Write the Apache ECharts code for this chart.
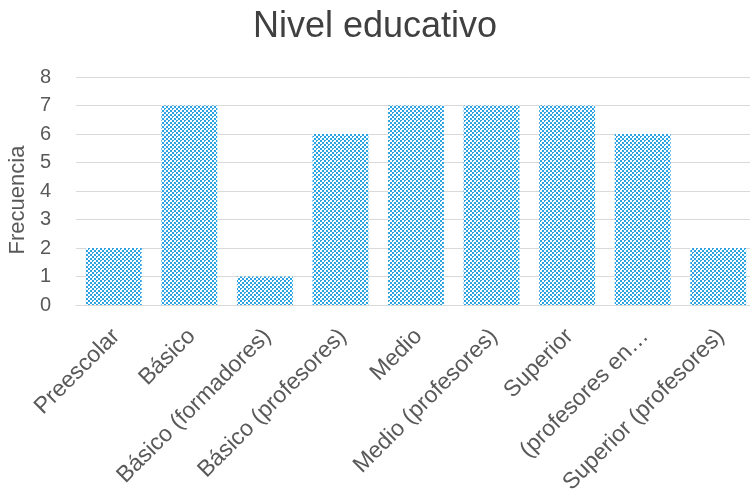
<!DOCTYPE html>
<html><head><meta charset="utf-8">
<script src="https://cdn.jsdelivr.net/npm/echarts@6/dist/echarts.min.js"></script>
<style>html,body{margin:0;padding:0;background:#fff}#c{width:750px;height:490px}</style>
</head><body><div id="c"></div>
<script>
const categories = ['Preescolar','Básico','Básico (formadores)','Básico (profesores)','Medio','Medio (profesores)','Superior','(profesores en…','Superior (profesores)'];
const values = [2,7,1,6,7,7,7,6,2];
const yTicks = [0,1,2,3,4,5,6,7,8];

const tile = document.createElement('canvas');
tile.width = 8; tile.height = 8;
const g = tile.getContext('2d');
g.fillStyle = '#ffffff'; g.fillRect(0,0,8,8);
g.fillStyle = '#2aa4e4';
g.fillRect(0,0,2,2); g.fillRect(4,0,2,2);
g.fillRect(2,2,2,2); g.fillRect(6,2,2,2);
g.fillRect(0,4,2,2); g.fillRect(4,4,2,2);
g.fillRect(2,6,2,2); g.fillRect(6,6,2,2);
g.fillStyle = '#ffffff';
g.fillRect(1,1,1,1); g.fillRect(5,5,1,1);

const font = '"Liberation Sans", "DejaVu Sans", sans-serif';
const chart = echarts.init(document.getElementById('c'), null, {renderer:'canvas'});
chart.setOption({
  animation:false,
  title:{text:'Nivel educativo', left:'center', top:4, textStyle:{fontFamily:font, fontSize:36, fontWeight:'normal', color:'#404040'}},
  grid:{left:76, right:-6, top:77, bottom:185, containLabel:false, outerBoundsMode:'none'},
  xAxis:{type:'category', data:categories,
    axisLine:{lineStyle:{color:'#d9d9d9', width:1}}, axisTick:{show:false},
    axisLabel:{rotate:45, interval:0, fontFamily:font, fontSize:23, color:'#595959', margin:14, verticalAlign:'top', padding:[0,8,0,0]}},
  yAxis:{type:'value', min:0, max:8, interval:1,
    name:'Frecuencia', nameLocation:'middle', nameGap:47, nameRotate:90,
    nameTextStyle:{fontFamily:font, fontSize:22, color:'#595959', padding:[0,18,0,0]},
    axisLine:{show:false}, axisTick:{show:false},
    axisLabel:{fontFamily:font, fontSize:20, color:'#595959', margin:25,
      formatter:v=>yTicks.includes(v)?String(v):''},
    splitLine:{lineStyle:{color:'#d9d9d9', width:1}}},
  series:[{type:'bar', data:values, barWidth:'74%',
    itemStyle:{color:{image:tile, repeat:'repeat'}}}]
});
</script></body></html>
